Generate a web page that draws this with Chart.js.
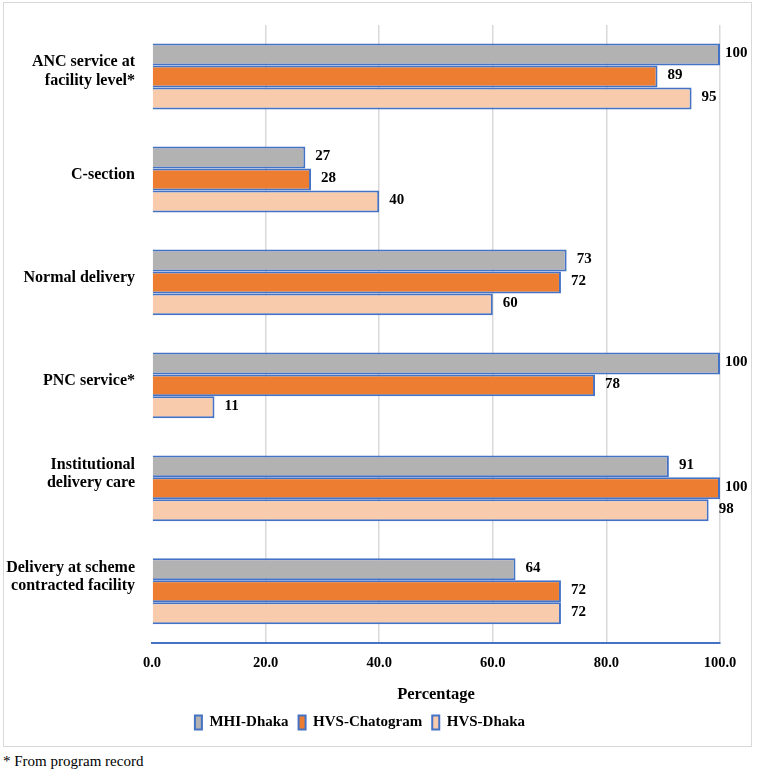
<!DOCTYPE html>
<html>
<head>
<meta charset="utf-8">
<script src="https://cdn.jsdelivr.net/npm/chart.js@4.4.1/dist/chart.umd.min.js"></script>
<style>
  html, body { margin: 0; padding: 0; background: #fff; }
  #wrap { position: absolute; left: 0; top: 0; width: 757px; height: 773px; }
  #frame { position: absolute; left: 3px; top: 2px; width: 749px; height: 745px; border: 1.5px solid #d9d9d9; box-sizing: border-box; pointer-events: none; }
  #note { position: absolute; left: 3px; top: 753px; font-family: "Liberation Serif", serif; font-size: 15px; color: #000; }
  canvas { position: absolute; left: 0; top: 0; }
</style>
</head>
<body>
<div id="wrap">
  <canvas id="c" width="757" height="750"></canvas>
  <div id="frame"></div>
  <div id="note">* From program record</div>
</div>
<script>
const categories = [
  ["ANC service at", "facility level*"],
  "C-section",
  "Normal delivery",
  "PNC service*",
  ["Institutional", "delivery care", ""],
  ["Delivery at scheme", "contracted facility", ""]
];
const seriesNames = ["MHI-Dhaka", "HVS-Chatogram", "HVS-Dhaka"];
const mhiDhaka = [100, 27, 73, 100, 91, 64];
const hvsChatogram = [89, 28, 72, 78, 100, 72];
const hvsDhaka = [95, 40, 60, 11, 98, 72];
const xTicks = [0, 20, 40, 60, 80, 100];

const FONT = "'Liberation Serif', 'Times New Roman', serif";
const BORDER = "#4472C4";

const valueLabels = {
  id: "valueLabels",
  afterDatasetsDraw(chart) {
    const ctx = chart.ctx;
    const right = chart.chartArea.right;
    ctx.save();
    ctx.font = "bold 15px " + FONT;
    ctx.fillStyle = "#000";
    ctx.textAlign = "left";
    ctx.textBaseline = "middle";
    chart.data.datasets.forEach((ds, di) => {
      const meta = chart.getDatasetMeta(di);
      meta.data.forEach((bar, i) => {
        const x = Math.min(bar.x + 10, right + 5);
        ctx.fillText(String(ds.data[i]), x, bar.y - 1);
      });
    });
    ctx.restore();
  }
};

new Chart(document.getElementById("c"), {
  type: "bar",
  data: {
    labels: categories,
    datasets: [
      { label: seriesNames[0], data: mhiDhaka, backgroundColor: "#B2B2B2", borderColor: BORDER, borderWidth: 2 },
      { label: seriesNames[1], data: hvsChatogram, backgroundColor: "#ED7D31", borderColor: BORDER, borderWidth: 2 },
      { label: seriesNames[2], data: hvsDhaka, backgroundColor: "#F8CBAD", borderColor: BORDER, borderWidth: 2 }
    ]
  },
  options: {
    indexAxis: "y",
    responsive: false,
    animation: false,
    devicePixelRatio: 1,
    layout: { padding: { top: 25, right: 37, left: 0, bottom: 10 } },
    datasets: { bar: { categoryPercentage: 0.64, barPercentage: 1.0 } },
    plugins: {
      tooltip: { enabled: false },
      legend: {
        position: "bottom",
        labels: {
          font: { family: FONT, size: 15, weight: "bold" },
          color: "#000",
          boxWidth: 7,
          boxHeight: 14,
          padding: 10
        }
      }
    },
    scales: {
      x: {
        min: 0, max: 100,
        afterBuildTicks(scale) { scale.ticks = xTicks.map(v => ({ value: v })); },
        ticks: {
          font: { family: FONT, size: 14.5, weight: "bold" },
          color: "#000",
          padding: 12,
          callback: v => Number(v).toFixed(1)
        },
        grid: {
          color: ctx => (ctx.tick && ctx.tick.value === 0) ? "rgba(0,0,0,0)" : "#D9D9D9",
          lineWidth: 1.5,
          drawTicks: false
        },
        border: { display: true, color: BORDER, width: 2 },
        title: {
          display: true,
          text: "Percentage",
          font: { family: FONT, size: 16.5, weight: "bold" },
          color: "#000",
          padding: { top: 1, bottom: 0 }
        }
      },
      y: {
        afterFit(scale) { scale.width = 152; scale.paddingTop = 0; scale.paddingBottom = 0; },
        ticks: {
          font: { family: FONT, size: 16, weight: "bold", lineHeight: 1.15 },
          color: "#000",
          padding: 17,
          labelOffset: -5
        },
        grid: { display: false, drawTicks: false },
        border: { display: false }
      }
    }
  },
  plugins: [valueLabels]
});
</script>
</body>
</html>
